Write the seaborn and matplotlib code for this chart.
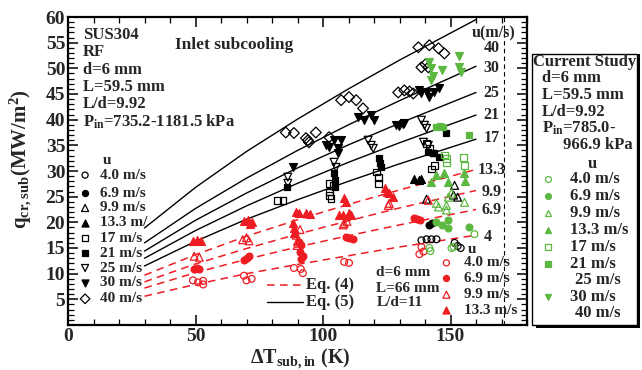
import numpy as np
import pandas as pd
import matplotlib
matplotlib.use("Agg")
import matplotlib.pyplot as plt
import seaborn as sns
from matplotlib.ticker import MultipleLocator
from matplotlib.patches import Rectangle

sns.set_theme(style="ticks")
plt.rcParams['font.family'] = ['Liberation Serif', 'DejaVu Serif']
plt.rcParams['font.weight'] = 'bold'
plt.rcParams['mathtext.fontset'] = 'custom'
plt.rcParams['mathtext.rm'] = 'Liberation Serif:bold'
plt.rcParams['mathtext.it'] = 'Liberation Serif:italic:bold'
plt.rcParams['mathtext.bf'] = 'Liberation Serif:bold'

RED = '#ee1d23'
GREEN = '#5cb841'

# ---------------- data ----------------
# Eq. (5) curves (solid black), u = 40, 30, 25, 21, 17 m/s
eq_dT = [30, 50, 70, 90, 110, 130, 160]
eq5_q40 = [18.9, 26.8, 33.8, 40.1, 46.0, 51.6, 59.5]
eq5_q30 = [16.0, 22.7, 28.6, 34.0, 39.0, 43.7, 50.4]
eq5_q25 = [14.4, 20.4, 25.7, 30.6, 35.1, 39.3, 45.3]
eq5_q21 = [13.0, 18.4, 23.2, 27.6, 31.7, 35.5, 40.9]
eq5_q17 = [11.5, 16.3, 20.6, 24.4, 28.0, 31.4, 36.2]
# Eq. (4) curves (red dashed), u = 13.3, 9.9, 6.9, 4 m/s
eq4_q133 = [9.7, 13.7, 17.3, 20.5, 23.5, 26.3, 30.3]
eq4_q99 = [8.4, 11.9, 14.9, 17.7, 20.3, 22.8, 26.2]
eq4_q69 = [7.2, 10.2, 12.8, 15.2, 17.4, 19.5, 22.5]
eq4_q40 = [5.6, 7.9, 10.0, 11.8, 13.5, 15.2, 17.5]
curve_labels = ['40', '30', '25', '21', '17', '13.3', '9.9', '6.9', '4']
curve_label_q = [53.9, 50.0, 45.1, 40.9, 36.4, 30.2, 25.9, 22.4, 17.1]

# RF data, L = 59.5 mm (black)
rf_u40_dT = [138.6, 140.6, 142.5, 144.5, 151.6, 152.8, 154.0]
rf_u40_q = [16.5, 16.7, 16.7, 16.7, 16.0, 15.4, 15.0]
rf_u69_dT = [141.7, 142.9]
rf_u69_q = [19.5, 19.8]
rf_u99_dT = [140.6, 151.6, 151.2, 152.8]
rf_u99_q = [24.5, 27.2, 25.3, 24.9]
rf_u133_dT = [135.8, 137.8, 138.6]
rf_u133_q = [28.4, 28.2, 28.4]
rf_u17_dT = [82.3, 84.3, 102.4, 103.9, 102.4, 102.4, 103.1, 120.9, 121.7, 121.7,
             140.6, 141.7, 143.3, 143.7, 142.5]
rf_u17_q = [24.3, 24.3, 27.6, 27.2, 25.9, 25.3, 24.7, 29.8, 28.8, 27.6,
            35.4, 34.4, 33.5, 31.1, 30.4]
rf_u21_dT = [85.8, 104.3, 104.7, 104.7, 122.0, 122.4, 122.8, 141.3, 143.3, 145.3, 148.4]
rf_u21_q = [26.8, 29.6, 28.2, 26.8, 32.5, 31.5, 30.7, 33.7, 33.5, 32.7, 37.5]
rf_u25_dT = [86.2, 86.2, 104.3, 105.1, 117.7, 118.9, 119.7, 138.6, 139.8, 140.6, 139.4, 141.3]
rf_u25_q = [28.8, 27.6, 31.7, 30.7, 36.0, 35.0, 34.4, 39.9, 38.9, 38.3, 35.6, 35.0]
rf_u30_dT = [88.2, 101.2, 102.4, 105.9, 105.9, 104.3, 107.1, 113.8, 116.1, 118.9, 120.1,
             128.7, 129.9, 131.5, 131.9, 137.8, 138.6, 140.6, 141.7, 143.7, 145.3]
rf_u30_q = [30.7, 35.0, 34.6, 34.4, 33.5, 36.0, 36.0, 40.5, 39.9, 40.9, 39.9,
            38.9, 38.7, 39.1, 39.3, 45.7, 45.1, 45.3, 44.4, 45.3, 46.1]
rf_u40s_dT = [85.4, 88.6, 93.3, 94.5, 94.1, 97.2, 102.4, 107.1, 110.2, 113.0, 115.7,
              129.5, 131.9, 133.9, 135.4, 138.6, 140.2, 141.3, 137.4, 141.7, 145.3, 147.6]
rf_u40s_q = [37.5, 37.4, 36.4, 35.6, 36.0, 37.5, 36.6, 43.8, 44.4, 43.8, 42.2,
             45.3, 45.7, 45.5, 45.1, 50.2, 50.8, 50.2, 54.1, 54.5, 53.9, 52.9]

# L = 66 mm data (red)
l66_u40_dT = [49, 51, 53, 53, 69, 70, 72, 88.6, 91.3, 92.1, 108.3, 110.2, 137.8, 139.4, 138.6]
l66_u40_q = [8.7, 8.3, 8.6, 7.9, 9.6, 8.7, 9.0, 11.1, 10.9, 10.1, 12.3, 12.1, 13.8, 14.3, 15.2]
l66_u69_dT = [49.5, 50.5, 51.5, 69, 70, 71, 90.5, 91.5, 91, 92, 91.5, 109, 110.2, 111.8,
              135.8, 137, 138]
l66_u69_q = [10.9, 11.2, 11.0, 12.6, 13.1, 13.4, 16.2, 15.6, 14.2, 13.4, 12.8, 17.1, 16.9, 16.7,
             20.8, 20.6, 20.4]
l66_u99_dT = [49.5, 51.5, 68.5, 70, 71, 91, 89.5, 90, 89.8, 108.3, 109.4, 107.9, 126, 125.6, 141.3]
l66_u99_q = [13.4, 13.2, 16.6, 17.0, 16.4, 18.6, 17.5, 16.3, 15.5, 19.8, 20.2, 19.5, 23.7, 23.3, 24.3]
l66_u133_dT = [49, 50.5, 52, 69, 70.5, 72, 71.5, 88.2, 88.6, 89.4, 90.6, 93.3, 95, 88.6,
               108.3, 109, 106.3, 107.9, 110.2, 111, 124.2, 125, 126, 127.5]
l66_u133_q = [16.4, 16.6, 16.3, 20.3, 20.5, 20.1, 19.6, 19.8, 18.9, 22.0, 21.8, 21.8, 21.6, 17.9,
              24.7, 23.9, 21.4, 21.4, 21.8, 21.4, 26.7, 25.9, 25.7, 24.9]

# Current study (green)
cs_u40_dT = [141.7, 142.1, 150.4, 151.2, 159.4]
cs_u40_q = [15.0, 14.4, 15.0, 15.2, 17.7]
cs_u69_dT = [144.5, 146.5, 149.2, 149.2, 157.1]
cs_u69_q = [20.0, 19.5, 18.9, 20.4, 19.1]
cs_u99_dT = [144.5, 145.3, 148.4, 148.4, 149.2, 150.4, 155.5]
cs_u99_q = [23.7, 23.0, 23.3, 22.4, 24.9, 25.7, 23.9]
cs_u133_dT = [142.5, 144.5, 147.6, 149.2, 155.1, 155.5]
cs_u133_q = [27.8, 29.2, 29.6, 27.8, 29.6, 28.0]
cs_u17_dT = [147.6, 148.4, 148.4, 155.1, 155.5]
cs_u17_q = [33.1, 32.5, 31.7, 32.7, 31.1]
cs_u21_dT = [144.5, 145.7, 147.2, 157.1]
cs_u21_q = [38.5, 38.7, 38.5, 37.0]
cs_u30_dT = [141.7, 142.5, 142.5, 146.5, 153.5, 153.5, 154.3, 143.0]
cs_u30_q = [51.2, 50.0, 47.7, 49.6, 52.5, 50.2, 49.2, 48.5]

u_labels_rf = ['4.0 m/s', '6.9 m/s', '9.9 m/s', '13.3 m/', '17 m/s', '21 m/s',
               '25 m/s', '30 m/s', '40 m/s']
u_labels_l66 = ['4.0 m/s', '6.9 m/s', '9.9 m/s', '13.3 m/s']
u_labels_cs = ['4.0 m/s', '6.9 m/s', '9.9 m/s', '13.3 m/s', '17 m/s', '21 m/s',
               '25 m/s', '30 m/s', '40 m/s']

# marker styles for u = 4.0, 6.9, 9.9, 13.3, 17, 21, 25, 30, 40
MARKERS = [('o', False, 24), ('o', True, 24), ('^', False, 32), ('^', True, 32),
           ('s', False, 24), ('s', True, 24), ('v', False, 32), ('v', True, 32),
           ('D', False, 30)]

# ---------------- figure ----------------
fig = plt.figure(figsize=(6.42, 3.70), dpi=100)
ax = fig.add_axes([68 / 642, 45 / 370, 459 / 642, 308 / 370])


def scat(x, y, idx, color, zorder=3):
    m, filled, s = MARKERS[idx]
    sns.scatterplot(x=x, y=y, marker=m, s=s,
                    color=(color if filled else 'none'), edgecolor=color,
                    linewidth=0.9, ax=ax, zorder=zorder, legend=False)


# curves
for q in [eq5_q40, eq5_q30, eq5_q25, eq5_q21, eq5_q17]:
    sns.lineplot(x=eq_dT, y=q, color='black', linewidth=1.0, ax=ax, zorder=2)
for q in [eq4_q133, eq4_q99, eq4_q69, eq4_q40]:
    sns.lineplot(x=eq_dT, y=q, color=RED, linewidth=1.1, linestyle=(0, (5, 3.5)), ax=ax, zorder=2)

# RF data (black)
rf_sets = [(rf_u40_dT, rf_u40_q), (rf_u69_dT, rf_u69_q), (rf_u99_dT, rf_u99_q),
           (rf_u133_dT, rf_u133_q), (rf_u17_dT, rf_u17_q), (rf_u21_dT, rf_u21_q),
           (rf_u25_dT, rf_u25_q), (rf_u30_dT, rf_u30_q), (rf_u40s_dT, rf_u40s_q)]
for i, (x, y) in enumerate(rf_sets):
    scat(x, y, i, 'black')

# L = 66 mm data (red)
l66_sets = [(l66_u40_dT, l66_u40_q), (l66_u69_dT, l66_u69_q),
            (l66_u99_dT, l66_u99_q), (l66_u133_dT, l66_u133_q)]
for i, (x, y) in enumerate(l66_sets):
    scat(x, y, i, RED)

# current study (green)
cs_sets = {0: (cs_u40_dT, cs_u40_q), 1: (cs_u69_dT, cs_u69_q), 2: (cs_u99_dT, cs_u99_q),
           3: (cs_u133_dT, cs_u133_q), 4: (cs_u17_dT, cs_u17_q), 5: (cs_u21_dT, cs_u21_q),
           7: (cs_u30_dT, cs_u30_q)}
for i, (x, y) in cs_sets.items():
    scat(x, y, i, GREEN, zorder=4)

# axes styling
ax.set_xlim(0, 180)
ax.set_ylim(0, 60)
ax.set_xticks([0, 50, 100, 150])
ax.set_yticks(range(0, 61, 5))
ax.set_yticklabels([''] + [str(v) for v in range(5, 61, 5)])
ax.xaxis.set_minor_locator(MultipleLocator(10))
ax.yaxis.set_minor_locator(MultipleLocator(1))
ax.tick_params(which='both', direction='in', top=True, right=True, color='black',
               labelsize=14, pad=2)
ax.tick_params(which='major', length=7, width=1.1)
ax.tick_params(which='minor', length=4, width=0.9)
for lab in ax.get_xticklabels() + ax.get_yticklabels():
    lab.set_fontweight('bold')
for sp in ax.spines.values():
    sp.set_linewidth(1.6)
    sp.set_color('black')
ax.grid(False)
ax.set_facecolor('white')

ax.set_ylabel(r'q$_{\mathrm{cr,sub}}$(MW/m$^{\mathrm{2}}$)', fontsize=15, fontweight='bold')
ax.yaxis.set_label_coords(-0.075, 0.54)
ax.set_xlabel(r'ΔT$_{\mathrm{sub,in}}$ (K)', fontsize=14.5, fontweight='bold')
ax.xaxis.set_label_coords(0.505, -0.07)

# dashed vertical line
ax.axvline(171, color='black', linewidth=0.8, linestyle=(0, (4, 3)), zorder=1)

# texts top-left
fs = 12
for txt, yy in zip(['SUS304', 'RF', 'd=6 mm', 'L=59.5 mm', 'L/d=9.92',
                    r'P$_{\mathrm{in}}$=735.2-1181.5 kPa'],
                   [56.4, 53.1, 49.6, 46.3, 43.0, 39.5]):
    ax.text(5.9, yy, txt, fontsize=fs, fontweight='bold', va='center', ha='left')
ax.text(42, 54.5, 'Inlet subcooling', fontsize=12.5, fontweight='bold', va='center', ha='left')

# left legend (RF)
ax.text(15.4, 32.0, 'u', fontsize=11, fontweight='bold', va='center', ha='center')
rf_leg_q = [29.2, 25.7, 22.8, 19.9, 16.9, 14.0, 11.1, 8.2, 5.1]
for i, (lab, yy) in enumerate(zip(u_labels_rf, rf_leg_q)):
    m, filled, s = MARKERS[i]
    ax.scatter([6.7], [yy], marker=m, s=s * 0.8, facecolor=('black' if filled else 'none'),
               edgecolor='black', linewidth=0.9, zorder=5)
    ax.text(12.6, yy, lab, fontsize=11, fontweight='bold', va='center', ha='left')

# equation legend
ax.plot([78, 92], [7.8, 7.8], color=RED, linewidth=1.1, linestyle=(0, (5, 3.5)))
ax.plot([78, 92], [4.5, 4.5], color='black', linewidth=1.0)
ax.text(93.5, 7.8, 'Eq. (4)', fontsize=12, fontweight='bold', va='center', ha='left')
ax.text(93.5, 4.5, 'Eq. (5)', fontsize=12, fontweight='bold', va='center', ha='left')

# L=66 mm info + red legend
for txt, yy in zip(['d=6 mm', 'L=66 mm', 'L/d=11'], [10.2, 7.2, 4.3]):
    ax.text(120.9, yy, txt, fontsize=11, fontweight='bold', va='center', ha='left')
ax.text(158.5, 14.8, 'u', fontsize=11, fontweight='bold', va='center', ha='center')
for i, (lab, yy) in enumerate(zip(u_labels_l66, [12.1, 9.1, 5.9, 2.9])):
    m, filled, s = MARKERS[i]
    ax.scatter([148.4], [yy], marker=m, s=s * 0.8, facecolor=(RED if filled else 'none'),
               edgecolor=RED, linewidth=0.9, zorder=5)
    ax.text(155.3, yy, lab, fontsize=11, fontweight='bold', va='center', ha='left')

# curve labels on the right
ax.text(167, 56.8, 'u(m/s)', fontsize=11.5, fontweight='bold', va='center', ha='center')
for lab, yy in zip(curve_labels, curve_label_q):
    xx = 164.5 if lab == '4' else 166
    ax.text(xx, yy, lab, fontsize=11.5, fontweight='bold', va='center', ha='center')

# ---------------- "Current Study" box ----------------
def fx(px):
    return px / 642


def fy(py):
    return 1 - py / 370


fig.add_artist(Rectangle((fx(536), fy(328)), fx(637) - fx(533), fy(54) - fy(328),
                         transform=fig.transFigure, facecolor='black', edgecolor='black',
                         linewidth=0, zorder=1))
fig.add_artist(Rectangle((fx(532), fy(325)), fx(637) - fx(532), fy(54) - fy(325),
                         transform=fig.transFigure, facecolor='white', edgecolor='black',
                         linewidth=1.0, zorder=2))
ftxt = dict(fontsize=12, fontweight='bold', va='center', zorder=3)
fig.text(fx(585), fy(62), 'Current Study', ha='center', **ftxt)
fig.text(fx(542), fy(78), 'd=6 mm', ha='left', **ftxt)
fig.text(fx(542), fy(95), 'L=59.5 mm', ha='left', **ftxt)
fig.text(fx(542), fy(112), 'L/d=9.92', ha='left', **ftxt)
fig.text(fx(542), fy(128), r'P$_{\mathrm{in}}$=785.0-', ha='left', **ftxt)
fig.text(fx(563), fy(145), '966.9 kPa', ha='left', **ftxt)
fig.text(fx(592), fy(164), 'u', ha='center', **ftxt)
cs_leg_y = [179, 196, 213, 230, 247, 264, 280, 297, 313]
for i, (lab, yy) in enumerate(zip(u_labels_cs, cs_leg_y)):
    if i in (6, 8):
        fig.text(fx(575), fy(yy), lab, ha='left', **ftxt)
        continue
    m, filled, s = MARKERS[i]
    fig.add_artist(plt.Line2D([fx(548)], [fy(yy)], transform=fig.transFigure, marker=m,
                              markersize=np.sqrt(s * 0.75), linestyle='none',
                              markerfacecolor=(GREEN if filled else 'none'),
                              markeredgecolor=GREEN, markeredgewidth=0.9, zorder=3))
    fig.text(fx(570), fy(yy), lab, ha='left', **ftxt)

fig.savefig('out.png', dpi=100, facecolor='white')
